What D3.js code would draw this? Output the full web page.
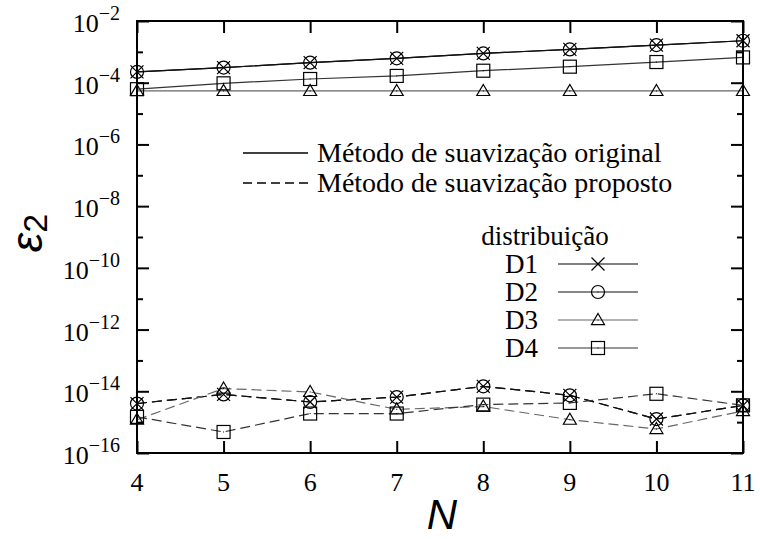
<!DOCTYPE html>
<html>
<head>
<meta charset="utf-8">
<script src="https://cdn.jsdelivr.net/npm/d3@7"></script>
<style>
  html, body { margin: 0; padding: 0; background: #fff; }
  svg { display: block; }
</style>
</head>
<body>
<div id="chart"></div>
<script>
// ---------------- data ----------------
const Ns = [4, 5, 6, 7, 8, 9, 10, 11];
const distributions = ["D1", "D2", "D3", "D4"];
const xTickLabels = ["4", "5", "6", "7", "8", "9", "10", "11"];
const yTickExponents = [-16, -14, -12, -10, -8, -6, -4, -2];
const yMinorExponents = [-15, -13, -11, -9, -7, -5, -3];

// original smoothing method (solid)
const origD1 = [2.24e-4, 3.09e-4, 4.47e-4, 6.17e-4, 8.91e-4, 1.20e-3, 1.66e-3, 2.29e-3];
const origD2 = [2.24e-4, 3.09e-4, 4.47e-4, 6.17e-4, 8.91e-4, 1.20e-3, 1.66e-3, 2.29e-3];
const origD3 = [5.4e-5, 5.4e-5, 5.4e-5, 5.4e-5, 5.4e-5, 5.4e-5, 5.4e-5, 5.4e-5];
const origD4 = [6.17e-5, 9.55e-5, 1.32e-4, 1.66e-4, 2.45e-4, 3.31e-4, 4.68e-4, 6.61e-4];

// proposed smoothing method (dashed)
const propD1 = [4.0e-15, 7.9e-15, 4.5e-15, 6.5e-15, 1.45e-14, 7.4e-15, 1.26e-15, 3.5e-15];
const propD2 = [4.0e-15, 7.9e-15, 4.5e-15, 6.5e-15, 1.45e-14, 7.4e-15, 1.26e-15, 3.5e-15];
const propD3 = [1.2e-15, 1.23e-14, 9.5e-15, 2.6e-15, 3.2e-15, 1.2e-15, 6.0e-16, 2.3e-15];
const propD4 = [1.48e-15, 4.8e-16, 1.9e-15, 1.9e-15, 3.7e-15, 4.2e-15, 8.3e-15, 3.5e-15];

const legendMethods = ["Método de suavização original", "Método de suavização proposto"];
const legendTitle = "distribuição";

// ---------------- layout ----------------
const W = 760, H = 539;
const SERIF = "Liberation Serif";
const SANS = "Liberation Sans";
const margin = { left: 137, right: 17, top: 21, bottom: 86 };
const x = d3.scaleLinear().domain([4, 11]).range([margin.left, W - margin.right]);
const y = d3.scaleLog().domain([1e-16, 1e-2]).range([H - margin.bottom, margin.top]);

const markerOf = { D1: "cross", D2: "circle", D3: "triangle", D4: "square" };
const colorOf = { D1: "#000", D2: "#111", D3: "#666", D4: "#333" };

const series = [];
const origs = [origD1, origD2, origD3, origD4];
const props = [propD1, propD2, propD3, propD4];
distributions.forEach((d, i) => {
  series.push({ dist: d, dashed: false, values: origs[i] });
  series.push({ dist: d, dashed: true, values: props[i] });
});

const svg = d3.select("#chart").append("svg").attr("width", W).attr("height", H);

// ---------------- axes / ticks ----------------
const majVals = yTickExponents.map(e => Math.pow(10, e));
const minVals = yMinorExponents.map(e => Math.pow(10, e));

function styleAxis(g) {
  g.select(".domain").remove();
  g.selectAll(".tick line").attr("stroke", "#000").attr("stroke-width", 2);
  g.selectAll(".tick text").remove();
}

svg.append("g").attr("transform", `translate(0,${y.range()[0]})`)
  .call(d3.axisBottom(x).tickValues(Ns).tickSize(-12)).call(styleAxis);
svg.append("g").attr("transform", `translate(0,${y.range()[1]})`)
  .call(d3.axisTop(x).tickValues(Ns).tickSize(-12)).call(styleAxis);
svg.append("g").attr("transform", `translate(${x.range()[0]},0)`)
  .call(d3.axisLeft(y).tickValues(majVals).tickSize(-12)).call(styleAxis);
svg.append("g").attr("transform", `translate(${x.range()[0]},0)`)
  .call(d3.axisLeft(y).tickValues(minVals).tickSize(-6)).call(styleAxis);
svg.append("g").attr("transform", `translate(${x.range()[1]},0)`)
  .call(d3.axisRight(y).tickValues(majVals).tickSize(-12)).call(styleAxis);
svg.append("g").attr("transform", `translate(${x.range()[1]},0)`)
  .call(d3.axisRight(y).tickValues(minVals).tickSize(-6)).call(styleAxis);

// x tick labels
svg.append("g").selectAll("text").data(Ns).join("text")
  .style("font-family", SERIF)
  .attr("x", d => x(d)).attr("y", 491)
  .attr("text-anchor", "middle")
  .style("font-size", "26px")
  .text((d, i) => xTickLabels[i]);

// y tick labels 10^e
const ylab = svg.append("g").selectAll("text").data(yTickExponents).join("text")
  .style("font-family", SERIF)
  .attr("x", 120).attr("y", d => y(Math.pow(10, d)) + 11)
  .attr("text-anchor", "end")
  .style("font-size", "26px");
ylab.append("tspan").text("10");
ylab.append("tspan").attr("dy", -12).style("font-size", "20px").text(d => "\u2212" + Math.abs(d));

// ---------------- markers ----------------
function drawMarker(g, type, cx, cy, color) {
  const s = 6.5;
  if (type === "cross") {
    g.append("path").attr("d", `M${cx - s},${cy - s}L${cx + s},${cy + s}M${cx - s},${cy + s}L${cx + s},${cy - s}`)
      .attr("stroke", color).attr("stroke-width", 1.2).attr("fill", "none");
  } else if (type === "circle") {
    g.append("circle").attr("cx", cx).attr("cy", cy).attr("r", s)
      .attr("stroke", color).attr("stroke-width", 1.2).attr("fill", "none");
    g.append("rect").attr("x", cx - 0.5).attr("y", cy - 0.5).attr("width", 1).attr("height", 1).attr("fill", color);
  } else if (type === "triangle") {
    g.append("path").attr("d", `M${cx},${cy - s}L${cx + s},${cy + s * 0.7}L${cx - s},${cy + s * 0.7}Z`)
      .attr("stroke", color).attr("stroke-width", 1.2).attr("fill", "none");
    g.append("rect").attr("x", cx - 0.5).attr("y", cy - 0.5).attr("width", 1).attr("height", 1).attr("fill", color);
  } else {
    g.append("rect").attr("x", cx - s).attr("y", cy - s).attr("width", 2 * s).attr("height", 2 * s)
      .attr("stroke", color).attr("stroke-width", 1.2).attr("fill", "none");
    g.append("rect").attr("x", cx - 0.5).attr("y", cy - 0.5).attr("width", 1).attr("height", 1).attr("fill", color);
  }
}

const line = d3.line().x((d, i) => x(Ns[i])).y(d => y(d));

const plot = svg.append("g");
series.forEach(s => {
  const g = plot.append("g");
  g.append("path").attr("d", line(s.values))
    .attr("fill", "none")
    .attr("stroke", colorOf[s.dist])
    .attr("stroke-width", 1.2)
    .attr("stroke-dasharray", s.dashed ? "10,5" : null);
  s.values.forEach((v, i) => drawMarker(g, markerOf[s.dist], x(Ns[i]), y(v), "#000"));
});

// frame
svg.append("rect")
  .attr("x", x.range()[0]).attr("y", y.range()[1])
  .attr("width", x.range()[1] - x.range()[0])
  .attr("height", y.range()[0] - y.range()[1])
  .attr("fill", "none").attr("stroke", "#000").attr("stroke-width", 2);

// ---------------- legends ----------------
const leg = svg.append("g");
[0, 1].forEach(i => {
  const ly = 153 + i * 30;
  leg.append("line").attr("x1", 243).attr("x2", 308).attr("y1", ly).attr("y2", ly)
    .attr("stroke", "#000").attr("stroke-width", 1.5)
    .attr("stroke-dasharray", i === 1 ? "9,5" : null);
  leg.append("text").style("font-family", SERIF).attr("x", 317).attr("y", ly + 9)
    .style("font-size", "28px").text(legendMethods[i]);
});

leg.append("text").style("font-family", SERIF).attr("x", 545).attr("y", 245)
  .attr("text-anchor", "middle").style("font-size", "27px").text(legendTitle);

distributions.forEach((d, i) => {
  const ly = 264 + i * 28;
  leg.append("text").style("font-family", SERIF).attr("x", 505).attr("y", ly + 9)
    .style("font-size", "27px").text(d);
  leg.append("line").attr("x1", 558).attr("x2", 638).attr("y1", ly).attr("y2", ly)
    .attr("stroke", colorOf[d]).attr("stroke-width", 1.2);
  drawMarker(leg, markerOf[d], 598, ly, "#000");
});

// ---------------- axis titles ----------------
svg.append("text")
  .attr("x", 442).attr("y", 529)
  .attr("text-anchor", "middle")
  .style("font-family", SANS)
  .style("font-style", "italic")
  .style("font-size", "42px")
  .text("N");

const yt = svg.append("text")
  .attr("transform", "translate(42,233) rotate(-90)")
  .attr("text-anchor", "middle")
  .style("font-family", SANS)
  .style("font-style", "italic");
yt.append("tspan").style("font-size", "44px").text("ε");
yt.append("tspan").style("font-size", "34px").attr("dy", 5).style("font-style", "normal").text("2");
</script>
</body>
</html>
